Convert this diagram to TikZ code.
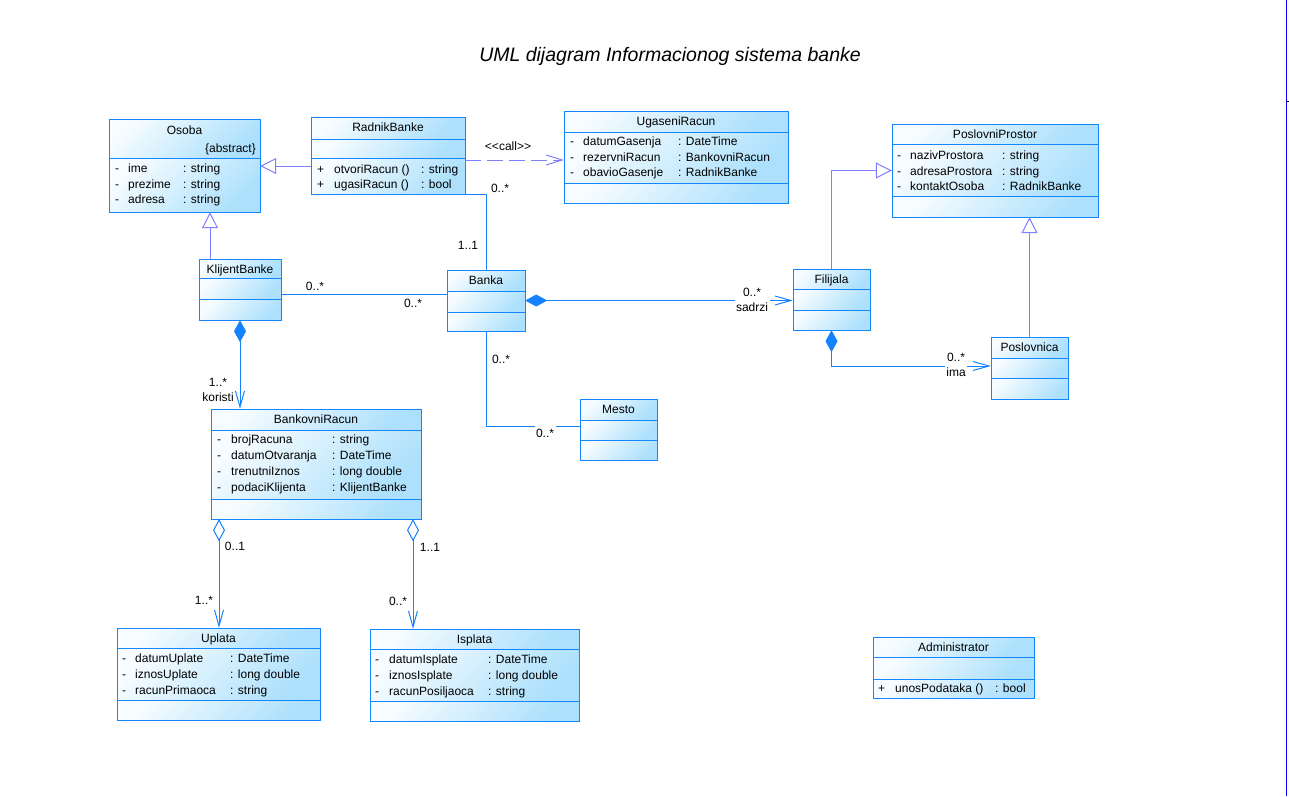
\documentclass[tikz,border=0pt]{standalone}
\usepackage{fontspec}
\setmainfont{Liberation Sans}
\usetikzlibrary{arrows.meta,fit}
\definecolor{umlblue}{RGB}{20,135,255}
\definecolor{umltop}{RGB}{246,252,255}
\definecolor{umlbot}{RGB}{172,224,252}
\definecolor{genblue}{RGB}{128,128,255}
\definecolor{assoc}{RGB}{20,130,255}
\definecolor{edgeblue}{RGB}{0,0,255}
\tikzset{
  comp/.style={draw=umlblue, line width=1pt, top color=umltop, bottom color=umlbot, shading angle=45},
  txt/.style={anchor=base west, inner sep=0pt, font=\fontsize{12}{14}\selectfont},
  ttl/.style={anchor=base, inner sep=0pt, font=\fontsize{12}{14}\selectfont},
  mult/.style={inner sep=1.5pt, fill=white, font=\fontsize{12}{15}\selectfont, align=center},
  asc/.style={draw=assoc, line width=1pt},
  nav/.style={draw=assoc, line width=1pt, -{Straight Barb[length=16pt,width=9pt]}},
  compo/.style={draw=assoc, line width=1pt, {Diamond[length=22pt,width=12pt]}-{Straight Barb[length=16pt,width=9pt]}},
  aggr/.style={draw=assoc, line width=1pt, {Diamond[open,fill=white,length=22pt,width=12pt]}-{Straight Barb[length=16pt,width=9pt]}},
  gen/.style={draw=genblue, line width=1pt, -{Triangle[open,fill=white,length=16pt,width=16pt]}},
  dep/.style={draw=genblue, line width=1pt, dash pattern=on 16pt off 6pt, -{Straight Barb[length=16pt,width=10pt]}},
}
\newcommand\umlclass[8]{%
  \path[comp] (#2,#3) rectangle (#4,#5);
  \path[comp] (#2,#5) rectangle (#4,#6);
  \path[comp] (#2,#6) rectangle (#4,#7);
  \node[inner sep=0pt, fit={(#2,#3) (#4,#7)}] (#1) {};
  \node[ttl] (#1-title) at ({(#2+#4)/2},{#3+14}) {#8};
}
\newcommand\umlrow[8]{%
  \node[txt] (#1-s) at (#2,#5) {#6};
  \node[txt] (#1-n) at (#3,#5) {#7};
  \node[txt] (#1-c) at (#4,#5) {#8};
}
\begin{document}
\begin{tikzpicture}[x=1pt,y=-1pt]
\useasboundingbox (0,0) rectangle (1289,796);
\fill[white] (0,0) rectangle (1289,796);

% title
\node[anchor=base, inner sep=0pt, font=\fontsize{19.5}{22}\selectfont\itshape] (title) at (670,61) {UML dijagram Informacionog sistema banke};

% right frame edge
\coordinate (frtop) at (1286,0);
\coordinate (frbot) at (1286,796);
\draw[edgeblue, line width=1pt] (frtop) -- (frbot);
\coordinate (tickA) at (1286,101);
\coordinate (tickB) at (1289,101);
\draw[black, line width=0.8pt] (tickA) -- (tickB);

% Osoba (two compartments)
\path[comp] (109,119) rectangle (260,158);
\path[comp] (109,158) rectangle (260,212);
\node[inner sep=0pt, fit={(109,119) (260,212)}] (osoba) {};
\node[ttl] (osoba-title) at (184.5,134) {Osoba};
\node[anchor=base east, inner sep=0pt, font=\fontsize{12}{14}\selectfont] (osoba-abs) at (256,152) {\{abstract\}};
\umlrow{os1}{115}{128}{183}{172}{-}{ime}{: string}
\umlrow{os2}{115}{128}{183}{188}{-}{prezime}{: string}
\umlrow{os3}{115}{128}{183}{203}{-}{adresa}{: string}

% classes
\umlclass{radnik}{311}{117}{465}{139}{158}{194}{RadnikBanke}
\umlrow{rb1}{317}{334}{421}{173}{+}{otvoriRacun ()}{: string}
\umlrow{rb2}{317}{334}{421}{188}{+}{ugasiRacun ()}{: bool}

\umlclass{ugaseni}{564}{111}{788}{132}{183}{203}{UgaseniRacun}
\umlrow{ug1}{570}{583}{678}{145}{-}{datumGasenja}{: DateTime}
\umlrow{ug2}{570}{583}{678}{161}{-}{rezervniRacun}{: BankovniRacun}
\umlrow{ug3}{570}{583}{678}{176}{-}{obavioGasenje}{: RadnikBanke}

\umlclass{poslovni}{892}{124}{1098}{144}{196}{217}{PoslovniProstor}
\umlrow{pp1}{897}{910}{1002}{159}{-}{nazivProstora}{: string}
\umlrow{pp2}{897}{910}{1002}{175}{-}{adresaProstora}{: string}
\umlrow{pp3}{897}{910}{1002}{190}{-}{kontaktOsoba}{: RadnikBanke}

\umlclass{klijent}{199}{259}{281}{278}{299}{320}{KlijentBanke}
\umlclass{banka}{447}{270}{525}{291}{312}{331}{Banka}
\umlclass{filijala}{793}{269}{870}{289}{310}{330}{Filijala}
\umlclass{poslovnica}{991}{337}{1068}{358}{378}{399}{Poslovnica}
\umlclass{mesto}{580}{399}{657}{420}{440}{460}{Mesto}

\umlclass{brac}{211}{409}{421}{430}{499}{519}{BankovniRacun}
\umlrow{br1}{217}{231}{332}{443}{-}{brojRacuna}{: string}
\umlrow{br2}{217}{231}{332}{459}{-}{datumOtvaranja}{: DateTime}
\umlrow{br3}{217}{231}{332}{475}{-}{trenutniIznos}{: long double}
\umlrow{br4}{217}{231}{332}{491}{-}{podaciKlijenta}{: KlijentBanke}

\umlclass{uplata}{117}{628}{320}{648}{700}{720}{Uplata}
\umlrow{up1}{122}{135}{230}{662}{-}{datumUplate}{: DateTime}
\umlrow{up2}{122}{135}{230}{678}{-}{iznosUplate}{: long double}
\umlrow{up3}{122}{135}{230}{694}{-}{racunPrimaoca}{: string}

\umlclass{isplata}{370}{629}{579}{649}{701}{721}{Isplata}
\umlrow{is1}{375}{389}{488}{663}{-}{datumIsplate}{: DateTime}
\umlrow{is2}{375}{389}{488}{679}{-}{iznosIsplate}{: long double}
\umlrow{is3}{375}{389}{488}{695}{-}{racunPosiljaoca}{: string}

\umlclass{admin}{873}{637}{1034}{657}{679}{698}{Administrator}
\umlrow{ad1}{878}{895}{995}{692}{+}{unosPodataka ()}{: bool}

% connectors
\draw[gen] (radnik.west |- 0,166) -- (osoba.east |- 0,166);
\draw[gen] (210,0 |- klijent.north) -- (210,0 |- osoba.south);
\draw[dep] (radnik.east |- 0,160) -- (ugaseni.west |- 0,160);
\draw[asc] (radnik.south east) -| (banka.north);
\draw[asc] (klijent.east |- 0,294) -- (banka.west |- 0,294);
\draw[compo] (klijent.south) -- (klijent.south |- brac.north);
\draw[compo] (banka.east) -- (filijala.west |- banka.east);
\draw[asc] (banka.south) |- (mesto.west |- 0,426);
\draw[gen] (filijala.north) |- (poslovni.west);
\draw[gen] (poslovnica.north) -- (poslovnica.north |- poslovni.south);
\draw[compo] (filijala.south) |- (poslovnica.west |- 0,366);
\draw[aggr] (219,0 |- brac.south) -- (219,0 |- uplata.north);
\draw[aggr] (413,0 |- brac.south) -- (413,0 |- isplata.north);

% labels
\node[mult] (l-call) at (508,146) {<{}<call>{}>};
\node[mult] (l-rb1) at (500,188) {0..*};
\node[mult] (l-rb2) at (468,245) {1..1};
\node[mult] (l-kb1) at (315,286) {0..*};
\node[mult] (l-kb2) at (413,303) {0..*};
\node[mult] (l-kor) at (218,389.5) {1..*\\koristi};
\node[mult] (l-bm1) at (501,359) {0..*};
\node[mult, inner ysep=4pt] (l-bm2) at (545,433) {0..*};
\node[mult] (l-sad) at (752,299.5) {0..*\\sadrzi};
\node[mult] (l-ima) at (956,364.5) {0..*\\ima};
\node[mult] (l-up1) at (235,546) {0..1};
\node[mult] (l-up2) at (204,600) {1..*};
\node[mult] (l-is1) at (430,547) {1..1};
\node[mult] (l-is2) at (398,601) {0..*};
\end{tikzpicture}
\end{document}
